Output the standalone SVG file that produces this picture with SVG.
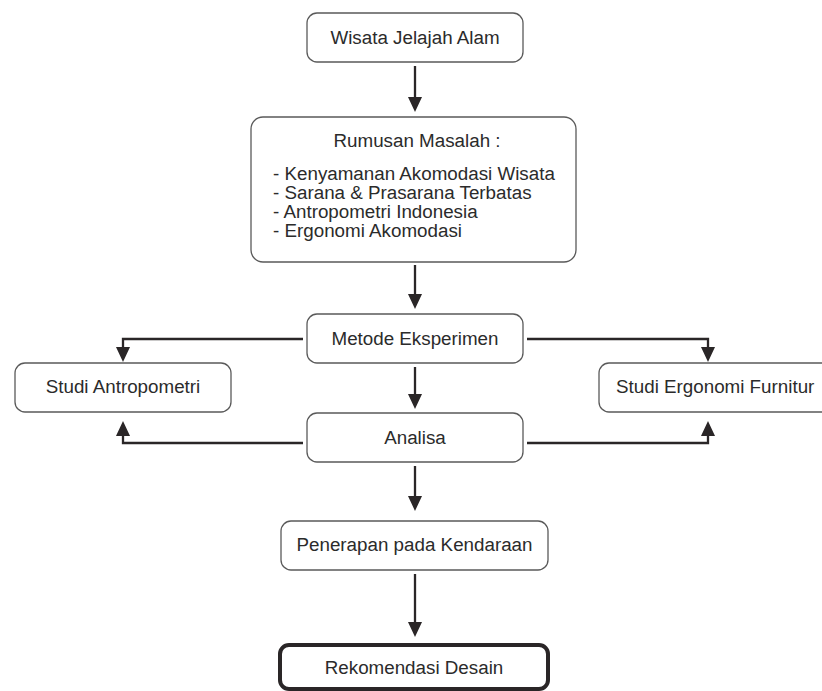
<svg xmlns="http://www.w3.org/2000/svg" width="822" height="691" viewBox="0 0 822 691">
<style>
.box{fill:#fff;stroke:#5a5a5a;stroke-width:1.3}
.strong{fill:#fff;stroke:#2a2627;stroke-width:4}
.t{font-family:"Liberation Sans",Arial,sans-serif;font-size:18.8px;fill:#2b2b2b}
.c{text-anchor:middle}
.ln{fill:none;stroke:#2a2627;stroke-width:2.3}
</style>
<defs>
<marker id="ah" markerUnits="userSpaceOnUse" viewBox="0 0 15 14" refX="0" refY="7" markerWidth="15" markerHeight="14" orient="auto">
<path d="M0,0 L15,7 L0,14 z" fill="#2a2627"/>
</marker>
</defs>
<rect width="822" height="691" fill="#fff"/>
<g id="connectors">
<path class="ln" d="M415,66 V97" marker-end="url(#ah)"/>
<path class="ln" d="M415,265 V294" marker-end="url(#ah)"/>
<path class="ln" d="M415,367 V394" marker-end="url(#ah)"/>
<path class="ln" d="M415,466 V496" marker-end="url(#ah)"/>
<path class="ln" d="M415,574 V622" marker-end="url(#ah)"/>
<path class="ln" d="M303,339 H123 V347" marker-end="url(#ah)"/>
<path class="ln" d="M303,443 H123 V436" marker-end="url(#ah)"/>
<path class="ln" d="M527,339 H708 V347" marker-end="url(#ah)"/>
<path class="ln" d="M527,443 H708 V436" marker-end="url(#ah)"/>
</g>
<g id="wisata">
<rect class="box" x="307" y="13" width="216" height="49" rx="10"/>
<text class="t c" x="415" y="44">Wisata Jelajah Alam</text>
</g>
<g id="rumusan">
<rect class="box" x="251" y="117" width="325" height="145" rx="12"/>
<text class="t c" x="417" y="147">Rumusan Masalah :</text>
<text class="t" x="273" y="179.5">- Kenyamanan Akomodasi Wisata</text>
<text class="t" x="273" y="198.7">- Sarana &amp; Prasarana Terbatas</text>
<text class="t" x="273" y="217.9">- Antropometri Indonesia</text>
<text class="t" x="273" y="237">- Ergonomi Akomodasi</text>
</g>
<g id="metode">
<rect class="box" x="307" y="314" width="216" height="49" rx="10"/>
<text class="t c" x="415" y="345">Metode Eksperimen</text>
</g>
<g id="analisa">
<rect class="box" x="307" y="413" width="216" height="49" rx="10"/>
<text class="t c" x="415" y="444">Analisa</text>
</g>
<g id="studi-antropometri">
<rect class="box" x="15" y="363" width="216" height="49" rx="10"/>
<text class="t c" x="123" y="393">Studi Antropometri</text>
</g>
<g id="studi-ergonomi">
<rect class="box" x="599" y="363" width="240" height="49" rx="10"/>
<text class="t" x="616" y="393">Studi Ergonomi Furnitur</text>
</g>
<g id="penerapan">
<rect class="box" x="281" y="521" width="267" height="49" rx="10"/>
<text class="t c" x="414.5" y="551">Penerapan pada Kendaraan</text>
</g>
<g id="rekomendasi">
<rect class="strong" x="280" y="645" width="268" height="44" rx="9"/>
<text class="t c" x="414" y="674">Rekomendasi Desain</text>
</g>
</svg>
